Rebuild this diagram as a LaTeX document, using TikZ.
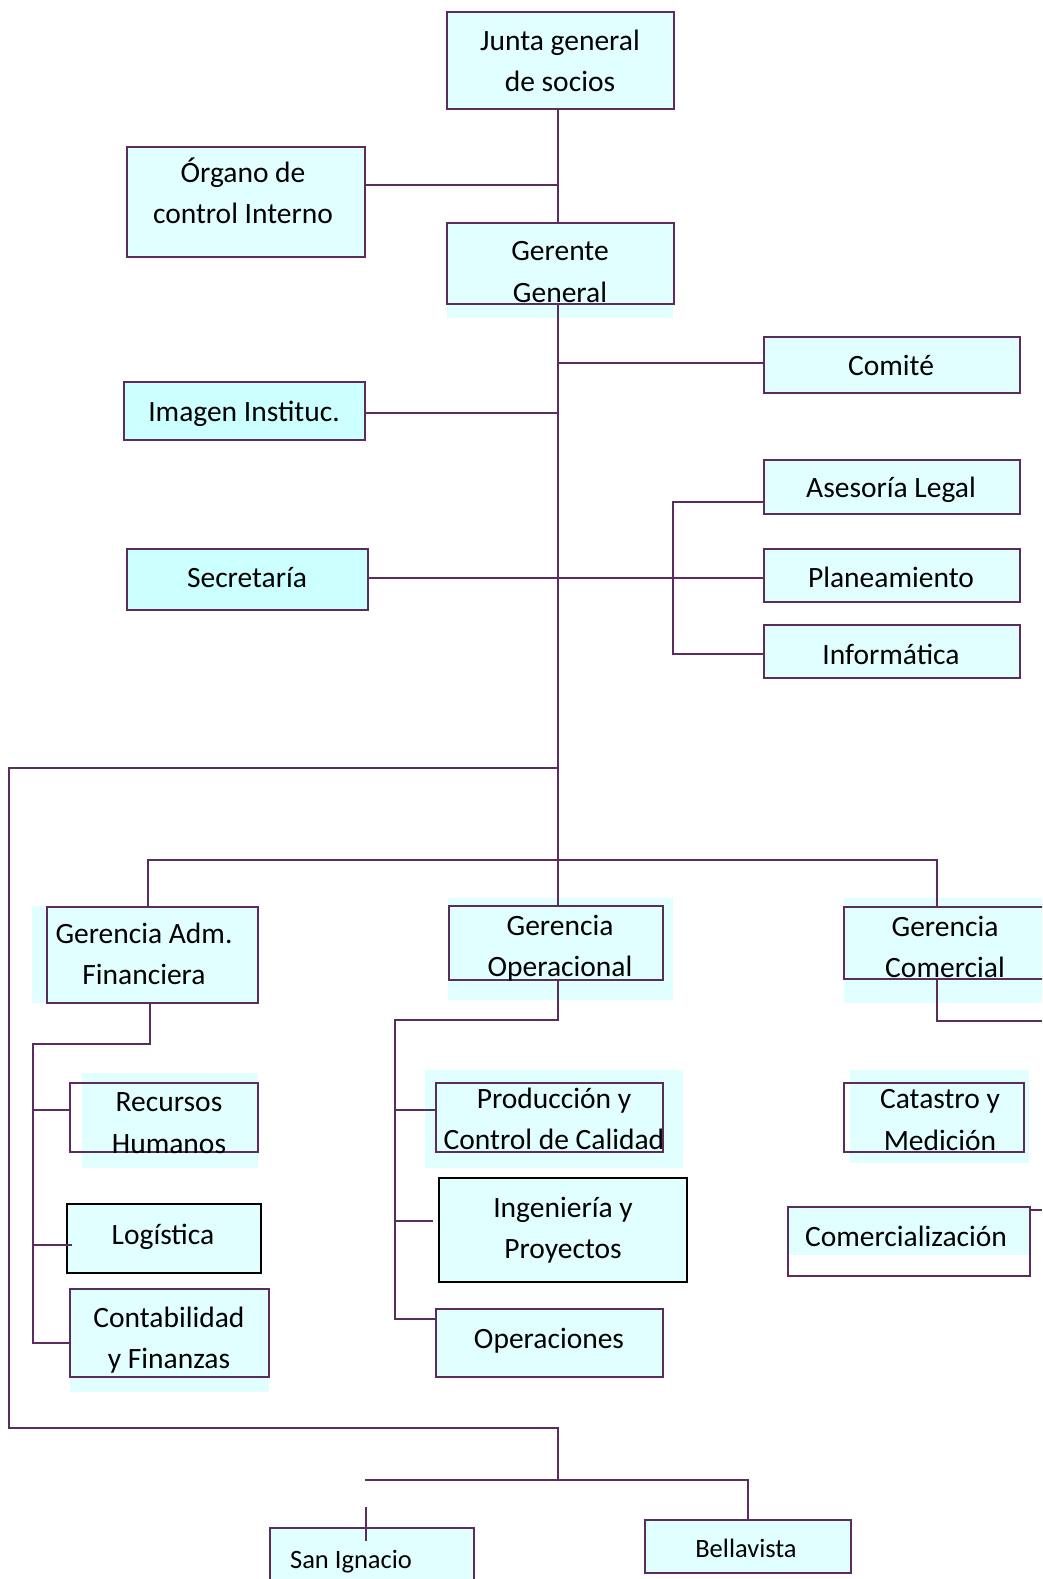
\documentclass[tikz,border=0pt]{standalone}
\usepackage{fontspec}
\setmainfont{Carlito}
\usetikzlibrary{fit}
\definecolor{bcol}{HTML}{5A2D5E}
\definecolor{cfill}{HTML}{E1FFFF}
\definecolor{cfilltwo}{HTML}{CCFFFF}
\tikzset{
  box/.style={draw=bcol, line width=2.6pt, fill=cfill, inner sep=0pt},
  blackbox/.style={box, draw=black},
  txt/.style={font=\fontsize{29.5}{41.5}\selectfont, align=center, inner sep=0pt, text=black},
  stxt/.style={font=\fontsize{26.5}{36}\selectfont, align=center, inner sep=0pt, text=black},
  conn/.style={draw=bcol, line width=2.3pt},
}
\begin{document}
\begin{tikzpicture}[x=1pt,y=-1pt]
\useasboundingbox (0,0) rectangle (1042,1579);
\clip (0,0) rectangle (1042,1579);
\fill[white] (0,0) rectangle (1042,1579);

% background extensions
\fill[cfill] (447,223) rectangle (673,318);
\fill[cfill] (32,906) rectangle (258,1003);
\fill[cfill] (448,898) rectangle (673,1000);
\fill[cfill] (844,898) rectangle (1042,1003);
\fill[cfill] (82,1073) rectangle (258,1168);
\fill[cfill] (425,1070) rectangle (683,1168);
\fill[cfill] (850,1070) rectangle (1029,1163);
\fill[cfill] (70,1289) rectangle (269,1392);

% boxes
\node[box, fit={(447,12)(674,109)}] (junta) {};
\node[box, fit={(127,147)(365,257)}] (organo) {};
\node[box, fill=none, fit={(447,223)(674,304)}] (gerente) {};
\node[box, fit={(764,337)(1020,393)}] (comite) {};
\node[box, fill=cfilltwo, fit={(124,382)(365,440)}] (imagen) {};
\node[box, fit={(764,460)(1020,514)}] (asesoria) {};
\node[box, fill=cfilltwo, fit={(127,549)(368,610)}] (secretaria) {};
\node[box, fit={(764,549)(1020,602)}] (planea) {};
\node[box, fit={(764,625)(1020,678)}] (informatica) {};
\node[box, fill=none, fit={(47,907)(258,1003)}] (gaf) {};
\node[box, fill=none, fit={(449,906)(663,980)}] (go) {};
\node[box, fill=none, fit={(844,907)(1050,979)}] (gc) {};
\node[box, fill=none, fit={(70,1083)(258,1152)}] (rrhh) {};
\node[blackbox, fit={(67,1204)(261,1273)}] (logistica) {};
\node[box, fill=none, fit={(70,1289)(269,1377)}] (conta) {};
\node[box, fill=none, fit={(436,1083)(663,1152)}] (prod) {};
\node[blackbox, fit={(439,1178)(687,1282)}] (ing) {};
\node[box, fit={(436,1309)(663,1377)}] (oper) {};
\node[box, fill=none, fit={(844,1083)(1024,1152)}] (catastro) {};
\fill[cfill] (788,1207) rectangle (1030,1255);
\node[box, fill=none, fit={(788,1207)(1030,1276)}] (comerc) {};
\node[box, fit={(270,1528)(474,1600)}] (sanig) {};
\node[box, fit={(645,1520)(851,1573)}] (bella) {};

% texts
\node[txt] (t-junta) at (560,61) {Junta general\\de socios};
\node[txt] (t-organo) at (243,191) {Órgano de\\control Interno};
\node[txt] (t-gerente) at (560,272) {Gerente\\General};
\node[txt] (t-comite) at (891,365) {Comité};
\node[txt] (t-imagen) at (244,414) {Imagen Instituc.};
\node[txt] (t-asesoria) at (891,490) {Asesoría Legal};
\node[txt] (t-secretaria) at (247,578) {Secretaría};
\node[txt] (t-planea) at (891,577) {Planeamiento};
\node[txt] (t-informatica) at (891,654) {Informática};
\node[txt] (t-gaf) at (144,954) {Gerencia Adm.\\Financiera};
\node[txt] (t-go) at (560,948) {Gerencia\\Operacional};
\node[txt] (t-gc) at (945,947) {Gerencia\\Comercial};
\node[txt] (t-rrhh) at (169,1123) {Recursos\\Humanos};
\node[txt] (t-prod) at (554,1119) {Producción y\\Control de Calidad};
\node[txt] (t-catastro) at (940,1120) {Catastro y\\Medición};
\node[txt] (t-logistica) at (163,1237) {Logística};
\node[txt] (t-ing) at (563,1230) {Ingeniería y\\Proyectos};
\node[txt] (t-comerc) at (906,1236) {Comercialización};
\node[txt] (t-conta) at (169,1340) {Contabilidad\\y Finanzas};
\node[txt] (t-oper) at (549,1341) {Operaciones};
\node[stxt] (t-sanig) at (351,1562) {San Ignacio};
\node[stxt] (t-bella) at (746,1548) {Bellavista};

% connectors
\coordinate (sp) at (558,0);
\draw[conn] (sp |- junta.south) -- (sp |- gerente.north);
\draw[conn] (organo.east |- 0,185) -- (sp |- 0,185);
\draw[conn] (sp |- gerente.south) -- (sp |- go.north);
\draw[conn] (sp |- 0,363) -- (comite.west |- 0,363);
\draw[conn] (imagen.east |- 0,413) -- (sp |- 0,413);
\draw[conn] (secretaria.east |- 0,578) -- (sp |- 0,578);
\draw[conn] (sp |- 0,578) -- (planea.west |- 0,578);
\draw[conn] (asesoria.west |- 0,502) -- (673,502) -- (673,654) -- (informatica.west |- 0,654);
\draw[conn] (sp |- 0,768) -- (9,768) -- (9,1428) -- (sp |- 0,1428) -- (sp |- 0,1480);
\coordinate (lowL) at (365,1480);
\draw[conn] (lowL) -- (bella.north |- lowL) -- (bella.north);
\coordinate (tickA) at (366,1507);
\coordinate (tickB) at (366,1541);
\draw[conn] (tickA) -- (tickB);
\draw[conn] (gaf.north -| 148,0) -- (148,860) -- (937,860) -- (gc.north -| 937,0);
\draw[conn] (gaf.south -| 150,0) -- (150,1044) -- (33,1044) -- (33,1343) -- (conta.west |- 0,1343);
\draw[conn] (33,1110) -- (rrhh.west |- 0,1110);
\draw[conn] (33,1245) -- (72,1245);
\draw[conn] (sp |- go.south) -- (sp |- 0,1020) -- (395,1020) -- (395,1319) -- (oper.west |- 0,1319);
\draw[conn] (395,1110) -- (prod.west |- 0,1110);
\coordinate (ingL) at (433,1221);
\draw[conn] (395,1221) -- (ingL);
\draw[conn] (gc.south -| 937,0) -- (937,1021) -- (1042,1021);
\draw[conn] (comerc.east |- 0,1210) -- (1042,1210);
\end{tikzpicture}
\end{document}
